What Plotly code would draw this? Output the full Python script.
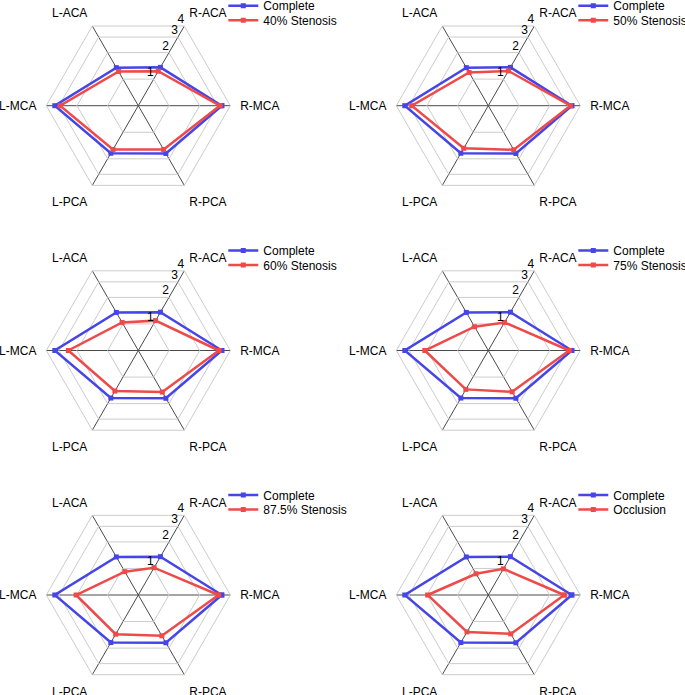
import math
import plotly.graph_objects as go

# ---- data ----
categories = ["R-MCA", "R-ACA", "L-ACA", "L-MCA", "L-PCA", "R-PCA"]
complete = [3.30, 1.36, 1.35, 3.30, 1.73, 1.74]
stenosis_40 = [3.16, 1.23, 1.22, 2.93, 1.57, 1.57]
stenosis_50 = [3.20, 1.24, 1.19, 2.82, 1.52, 1.58]
stenosis_60 = [3.09, 1.09, 1.04, 2.43, 1.44, 1.48]
stenosis_75 = [3.11, 1.04, 0.93, 2.10, 1.38, 1.47]
stenosis_875 = [3.07, 1.02, 0.92, 2.04, 1.39, 1.45]
occlusion = [2.78, 0.99, 0.87, 1.97, 1.31, 1.38]
condition_names = ["40% Stenosis", "50% Stenosis", "60% Stenosis",
                   "75% Stenosis", "87.5% Stenosis", "Occlusion"]
condition_values = [stenosis_40, stenosis_50, stenosis_60,
                    stenosis_75, stenosis_875, occlusion]
radial_ticks = [1, 2, 3, 4]
radial_tick_labels = ["1", "2", "3", "4"]
radial_label_axis = "R-ACA"
radial_min, radial_max = 0.5, 4


# logarithmic radial scale measured from radial_min (keeps the axis start at 0,
# which avoids plotly hiding inner points on log polar axes with a polygon grid)
def logpos(values):
    return [math.log10(v / radial_min) for v in values]


# ---- layout geometry (pixels) ----
W, H = 685, 695
R = 92
centers_x = [138.3, 488.3]
centers_y = [105.7, 350.5, 595.0]

BLUE = "#4545e8"
RED = "#ef4a4a"
FONT = "Liberation Sans, Arial, sans-serif"
RANGE = [0, math.log10(radial_max / radial_min)]

fig = go.Figure()
layout = dict(
    width=W, height=H,
    margin=dict(l=0, r=0, t=0, b=0, autoexpand=False),
    paper_bgcolor="white", plot_bgcolor="white",
    font=dict(family=FONT, size=12, color="#000000"),
    showlegend=True,
)

n = len(condition_names)
for i, (name, vals) in enumerate(zip(condition_names, condition_values)):
    row, col = divmod(i, 2)
    cx, cy = centers_x[col], centers_y[row]
    domain = dict(x=[(cx - R) / W, (cx + R) / W],
                  y=[1 - (cy + R) / H, 1 - (cy - R) / H])
    pid = "polar" if i == 0 else f"polar{i+1}"
    oid = f"polar{i+1+n}"  # transparent overlay for the radial labels
    layout[pid] = dict(
        domain=domain,
        gridshape="linear",
        bgcolor="white",
        angularaxis=dict(
            type="category", categoryarray=categories,
            rotation=0, direction="counterclockwise",
            showgrid=True, gridcolor="#4a4a4a", gridwidth=1,
            showline=True, linecolor="#cccccc", linewidth=1,
            ticks="outside", ticklen=7, tickcolor="rgba(0,0,0,0)",
            tickfont=dict(size=12, family=FONT, color="#000"),
        ),
        radialaxis=dict(
            type="linear", range=RANGE,
            tickmode="array", tickvals=logpos(radial_ticks),
            ticktext=radial_tick_labels, showticklabels=False,
            angle=60,
            showgrid=True, gridcolor="#cccccc", gridwidth=1,
            showline=False, ticks="",
        ),
    )
    layout[oid] = dict(
        domain=domain,
        gridshape="linear",
        bgcolor="rgba(0,0,0,0)",
        angularaxis=dict(type="category", categoryarray=categories,
                         rotation=0, direction="counterclockwise",
                         visible=False),
        radialaxis=dict(type="linear", range=RANGE, angle=60, visible=False),
    )
    lg1 = f"legend{2*i+2}"
    lg2 = f"legend{2*i+3}"
    for lg, dy in ((lg1, 100), (lg2, 85.5)):
        layout[lg] = dict(
            x=(cx + 85) / W, xanchor="left",
            y=1 - (cy - dy) / H, yanchor="middle",
            bgcolor="rgba(0,0,0,0)", borderwidth=0,
            font=dict(size=12, family=FONT, color="#000"),
        )
    fig.add_trace(go.Scatterpolar(
        r=logpos(complete + complete[:1]), theta=categories + categories[:1],
        customdata=complete + complete[:1],
        hovertemplate="%{theta}: %{customdata}<extra>Complete</extra>",
        mode="lines+markers", name="Complete", subplot=pid, legend=lg1,
        line=dict(color=BLUE, width=2.5),
        marker=dict(symbol="square", size=5, color=BLUE),
    ))
    fig.add_trace(go.Scatterpolar(
        r=logpos(vals + vals[:1]), theta=categories + categories[:1],
        customdata=vals + vals[:1],
        hovertemplate="%{theta}: %{customdata}<extra>" + name + "</extra>",
        mode="lines+markers", name=name, subplot=pid, legend=lg2,
        line=dict(color=RED, width=2.5),
        marker=dict(symbol="square", size=5, color=RED),
    ))
    # radial tick labels along the R-ACA spoke, above the data lines
    fig.add_trace(go.Scatterpolar(
        r=logpos(radial_ticks), theta=[radial_label_axis] * len(radial_ticks),
        mode="text", text=radial_tick_labels, textposition="top left",
        textfont=dict(size=12, family=FONT, color="#000"),
        subplot=oid, showlegend=False, hoverinfo="skip", cliponaxis=False,
    ))

fig.update_layout(**layout)
fig.write_html(
    "out.html",
    config={"displayModeBar": False},
    post_script="document.body.style.margin='0';document.body.style.padding='0';",
)
